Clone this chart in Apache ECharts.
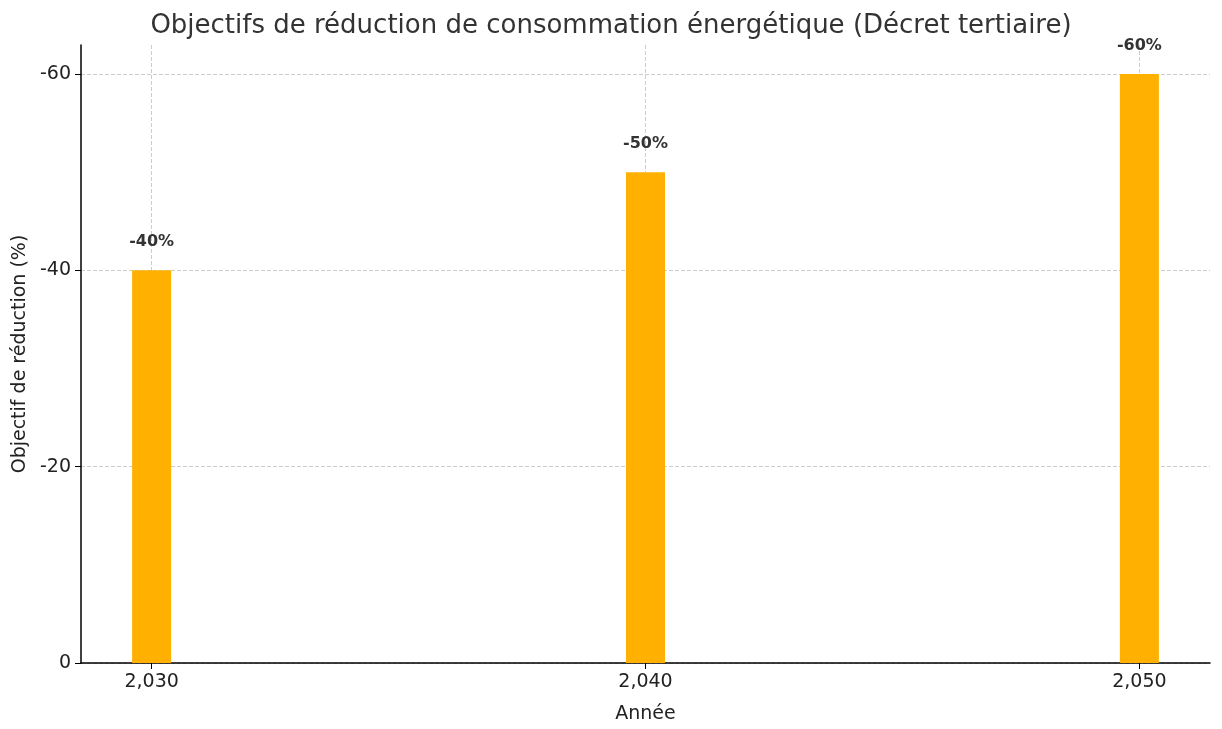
<!DOCTYPE html><html><head><meta charset="utf-8"><script src="https://cdn.jsdelivr.net/npm/echarts@6/dist/echarts.min.js"></script></head><body style="margin:0"><div id="c" style="width:1222px;height:729px"></div><script>
const years=[2030,2040,2050];
const values=[-40,-50,-60];
const labels=['-40%','-50%','-60%'];
const yTicks=[0,-20,-40,-60];
const F='DejaVu Sans';
const ch=echarts.init(document.getElementById('c'));
ch.setOption({animation:false,
title:{text:'Objectifs de réduction de consommation énergétique (Décret tertiaire)',left:'center',top:8,textStyle:{fontFamily:F,fontSize:26,fontWeight:'normal',color:'#333'}},
grid:{left:81,right:12,top:45,bottom:66},
xAxis:{type:'value',min:2028.57,max:2051.43,name:'Année',nameLocation:'middle',nameGap:42,nameTextStyle:{fontFamily:F,fontSize:19,color:'#222'},
axisLine:{lineStyle:{color:'#000',width:1.5}},axisTick:{customValues:years,length:6,lineStyle:{color:'#000'}},
axisLabel:{customValues:years,fontFamily:F,fontSize:19,color:'#222',margin:10},
splitLine:{show:true,lineStyle:{type:'dashed',color:'#ccc'}}},
yAxis:{type:'value',inverse:true,min:-62.95,max:0,name:'Objectif de réduction (%)',nameLocation:'middle',nameGap:50,nameTextStyle:{fontFamily:F,fontSize:19,color:'#222'},
axisLine:{show:true,lineStyle:{color:'#000',width:1.5}},axisTick:{show:true,customValues:yTicks,length:6,lineStyle:{color:'#000'}},
axisLabel:{customValues:yTicks,fontFamily:F,fontSize:19,color:'#222',margin:10},
splitLine:{show:true,lineStyle:{type:'dashed',color:'#ccc'}}},
series:[{type:'bar',barWidth:39,itemStyle:{color:'#FFB000'},data:years.map((y,i)=>[y,values[i]]),
label:{show:true,position:'top',distance:20,formatter:p=>labels[p.dataIndex],fontFamily:F,fontSize:16,fontWeight:'bold',color:'#333'}}]
});
</script></body></html>
